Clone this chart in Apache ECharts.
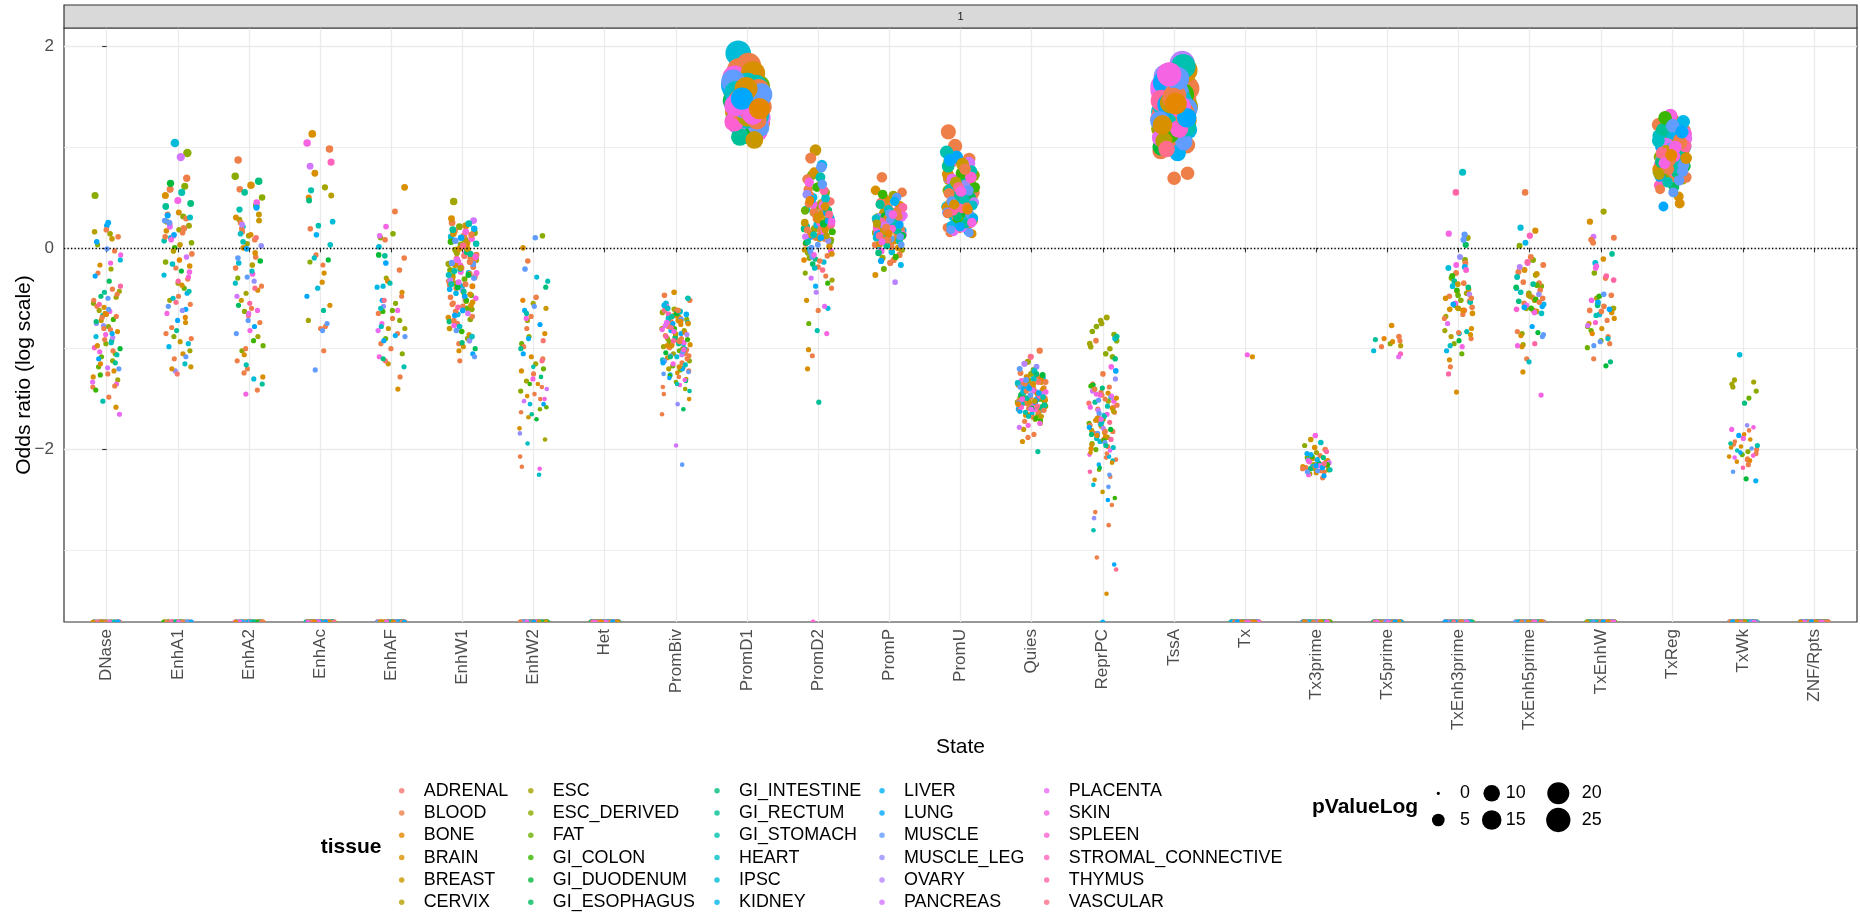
<!DOCTYPE html>
<html>
<head>
<meta charset="utf-8">
<script src="https://cdn.jsdelivr.net/npm/echarts@6/dist/echarts.min.js"></script>
<style>html,body{margin:0;padding:0;background:#fff}#chart{width:1860px;height:915px}</style>
</head>
<body>
<div id="chart"></div>
<script>
const _ = null; // -Inf (log odds ratio of zero overlap)

const states = ["DNase","EnhA1","EnhA2","EnhAc","EnhAF","EnhW1","EnhW2","Het","PromBiv","PromD1","PromD2","PromP","PromU","Quies","ReprPC","TssA","Tx","Tx3prime","Tx5prime","TxEnh3prime","TxEnh5prime","TxEnhW","TxReg","TxWk","ZNF/Rpts"];
const tissues = ["ADRENAL","BLOOD","BONE","BRAIN","BREAST","CERVIX","ESC","ESC_DERIVED","FAT","GI_COLON","GI_DUODENUM","GI_ESOPHAGUS","GI_INTESTINE","GI_RECTUM","GI_STOMACH","HEART","IPSC","KIDNEY","LIVER","LUNG","MUSCLE","MUSCLE_LEG","OVARY","PANCREAS","PLACENTA","SKIN","SPLEEN","STROMAL_CONNECTIVE","THYMUS","VASCULAR"];
const yTicks = [-2, 0, 2];
const yMinorTicks = [-3, -1, 1];
const sizeBreaks = [0, 5, 10, 15, 20, 25];

// tissue of each of the 127 samples (index into tissues)
const sampleTissue = [
6,6,6,7,7,7,7,6,7,7,
7,7,7,6,6,6,19,16,16,16,
16,16,8,6,8,27,4,4,1,1,
1,1,1,1,1,1,1,1,1,1,
1,1,1,1,1,1,1,1,2,1,
1,21,3,3,25,25,25,25,25,25,
1,8,29,18,3,3,3,3,3,3,
3,3,9,9,10,10,11,0,3,3,
15,12,12,17,23,19,20,21,24,14,
28,14,15,19,22,23,24,20,13,13,
13,15,15,9,20,20,12,14,14,28,
26,19,1,1,5,18,4,20,20,29,
1,1,3,25,25,19,2];

// log odds ratio per sample, one array per state (_ = -Inf)
const orDNase = [.14,-.62,_,-.95,.52,-1.12,_,-.43,-.78,.03,
-1.05,_,-.55,-.21,_,-1.31,.22,-.88,_,-.67,
-.12,_,-1.18,-.49,_,-.99,.09,-.72,_,-1.25,
-.58,-.03,_,-1.38,-.81,_,-.46,.18,_,-1.02,
-.69,_,-1.48,-.25,_,-.91,-.52,_,-1.15,.11,
_,-.75,-1.22,_,-.07,-.63,_,-1.35,-.86,_,
-.41,-1.08,_,.25,-.97,_,-.59,-1.28,_,-.17,
-.83,_,-1.41,-.71,_,-1.0,-.33,_,-1.58,-.65,
_,-.92,-.48,_,-1.19,.06,_,-.77,-1.33,_,
-.56,-1.06,_,-.28,-.89,_,-1.65,-.61,_,-1.14,
-.44,_,-.94,-1.26,_,-.01,-.73,_,-1.52,-.38,
_,-1.1,-.68,_,.16,-.85,_,-1.2,-.5,_,
-1.37,-.8,_,-.15,-1.03,_,-.66];
const orEnhA1 = [.22,-.35,_,.61,-.88,.05,_,-.52,.94,_,
-.14,.31,_,-1.02,.18,_,-.61,1.04,-.27,_,
.1,-.95,_,.26,-.4,_,-1.18,.03,_,.69,
-.2,_,.15,-.79,_,-.48,.33,_,-1.1,-.06,
_,.58,-.31,_,-.85,.2,_,-.56,-.12,_,
.29,-1.22,_,-.37,.08,_,.47,-.65,_,.12,
-.9,_,.24,-.45,_,.52,-1.05,_,-.18,.35,
_,-.74,.0,_,-.23,.64,_,-1.25,.17,_,
-.5,.44,_,-.98,-.09,_,.27,-.62,_,-.43,
-.33,_,-1.15,.13,_,.9,.21,_,-.82,.41,
_,-.16,.3,_,-.58,-1.08,_,.07,.55,_,
-.29,-.72,_,.19,-.03,_,-.93,.25,_,-.54,
.11,_,-1.2,-.24,_,.32,-.69];
const orEnhA2 = [.28,_,-.45,.71,_,-1.02,_,.12,-.3,_,
-.63,.5,_,_,-.88,.04,_,-1.3,.21,_,
_,-.15,.42,_,-.97,_,-.52,.33,_,-1.12,
.08,_,-.38,_,.58,-1.41,_,-.2,_,.16,
-.74,_,.87,-.09,_,_,-.6,.25,_,-1.2,
_,-.33,.0,_,-.82,_,.45,-1.45,_,-.26,
.19,_,-.67,_,-.05,-1.06,_,.62,_,-.42,
_,.3,-.92,_,-.13,_,-.57,.1,_,-1.28,
-.23,_,.66,_,-.48,-.78,_,.02,_,.38,
_,-1.16,-.35,_,.23,_,-.65,-.1,_,.55,
-1.35,_,.14,_,-.29,-.85,_,.06,_,-.55,
_,.4,-1.0,_,-.17,_,.27,-.72,_,-.4,
-1.24,_,.13,_,-.62,-.01,_];
const orEnhAc = [_,_,.6,_,_,_,-.14,_,_,_,
_,_,_,_,-.72,_,_,.26,_,_,
_,-.4,_,_,_,.85,_,_,_,-.07,
_,_,_,.98,_,_,-.78,_,_,_,
.19,_,_,_,-1.02,_,_,_,.5,_,
_,_,-.34,_,_,_,1.04,_,_,_,
-.8,_,_,.13,_,_,1.13,-.57,_,_,
_,.74,_,_,_,-.12,_,_,-.25,_,
_,_,.47,_,_,_,-.82,_,_,.22,
_,_,-.1,_,_,.81,_,_,_,-.62,
_,.03,_,_,_,-1.21,_,_,.57,_,
_,-.48,_,_,.52,_,_,-.75,_,_,
-.17,_,_,_,_,_,_];
const orEnhAF = [_,-.3,_,.14,_,-.72,_,_,-.55,_,
-1.05,_,.1,_,_,-.8,_,-.38,_,_,
.01,_,-.9,_,-.62,_,_,-1.15,_,.36,
_,-.48,_,_,-.85,_,-.1,_,_,-1.28,
_,-.65,_,.08,_,_,-.95,_,-.33,_,
_,-.58,_,_,-1.08,_,.21,_,_,-.75,
-.22,_,_,-.87,_,-.44,_,_,-1.4,_,
.6,_,-.63,_,_,-.07,_,-1.12,_,_,
-.78,_,_,-.39,_,-.92,_,_,.12,_,
_,-1.18,_,-.52,_,_,-.82,_,-.08,_,
_,-.6,_,_,-.88,_,-1.1,_,-.35,_,
_,-.15,_,-.7,_,_,-.8,_,_,-.52,
_,-1.0,_,-.62,_,_,_];
const orEnhW1 = [-.12,.08,-.35,-.61,.03,-.22,-.9,-.05,.15,-.44,
-.28,-.71,.21,-.16,-.53,-.02,-1.05,-.38,.11,-.25,
-.66,-.09,-.31,.46,-.47,-.18,-.8,.05,-.4,-.13,
-.58,.25,-.26,-.95,-.07,-.36,.17,-.68,-.2,-.49,
-.03,-.75,-.29,.12,-.55,-.1,-1.12,-.33,.01,-.63,
-.19,-.42,.29,-.86,-.14,-.5,-.06,-.77,.09,-.24,
-.37,-.6,-.11,.19,-.98,-.3,-.46,-.01,-.69,.22,
-.17,-.54,-.83,.06,-.27,-.39,-1.0,-.08,.14,-.57,
-.21,-.73,-.04,-.45,.27,-.62,-.15,-.92,-.34,.04,
-.51,-.23,-.88,.1,-.32,-.65,-.12,-1.08,-.43,.18,
-.06,-.78,-.27,-.52,.07,-.16,-.94,-.36,.24,-.59,
-.09,-.48,-.72,.13,-.2,-.41,-.01,-.82,-.3,.02,
-.56,-.14,-1.02,-.25,.16,-.67,-.38];
const orEnhW2 = [-1.32,_,-.55,_,-1.6,-.88,_,-1.15,_,.12,
_,-1.42,_,-.72,-1.9,_,-1.05,_,-1.55,_,
-.29,_,-1.2,_,-.95,_,-1.68,-.6,_,_,
-1.38,_,-2.07,_,-.8,_,-1.25,_,-1.5,_,
_,-.49,_,-1.1,_,-1.63,_,-.13,_,-1.45,
-.98,_,_,-1.79,_,-.7,_,-1.3,_,-2.19,
_,-1.58,_,-.62,_,-1.08,_,_,-1.47,-.85,
_,.0,_,-1.35,_,-1.7,_,-.92,_,-1.22,
-2.25,_,-.39,_,-1.52,_,_,-1.84,_,-.65,
_,-1.18,_,-.76,_,-1.4,_,-.21,_,-1.65,
-1.0,_,-1.94,_,-.58,_,-1.28,_,-.33,_,
_,-1.55,_,-2.17,_,-.9,_,.1,_,-1.12,
-.68,_,-1.35,_,-1.5,_,-.52];
const orHet = [_,_,_,_,_,_,_,_,_,_,
_,_,_,_,_,_,_,_,_,_,
_,_,_,_,_,_,_,_,_,_,
_,_,_,_,_,_,_,_,_,_,
_,_,_,_,_,_,_,_,_,_,
_,_,_,_,_,_,_,_,_,_,
_,_,_,_,_,_,_,_,_,_,
_,_,_,_,_,_,_,_,_,_,
_,_,_,_,_,_,_,_,_,_,
_,_,_,_,_,_,_,_,_,_,
_,_,_,_,_,_,_,_,_,_,
_,_,_,_,_,_,_,_,_,_,
_,_,_,_,_,_,_];
const orPromBiv = [-.82,-1.05,-.64,-1.21,-.93,-.71,-1.33,-.58,-1.0,-.77,
-1.12,-.68,-.9,-1.4,-.61,-.98,-.85,-1.26,-.74,-1.08,
-.55,-.95,-1.17,-.8,-1.02,-.66,-1.3,-.88,-.47,-1.14,
-.73,-1.22,-.92,-.6,-1.05,-.83,-1.38,-.7,-.99,-1.1,
-.63,-.87,-1.19,-.96,-.52,-1.28,-.78,-1.03,-.67,-1.45,
-.9,-1.07,-.75,-1.24,-.58,-.94,-1.15,-.81,-1.36,-.69,
-1.01,-.86,-.62,-1.2,-.97,-1.5,-.72,-1.09,-.84,-.44,
-1.13,-.76,-1.27,-.91,-.65,-1.04,-1.6,-.79,-.96,-1.18,
-.7,-1.32,-.89,-.57,-1.06,-.82,-1.23,-1.55,-.74,-1.0,
-.92,-1.11,-.63,-1.29,-.86,-1.96,-.77,-1.03,-.68,-1.42,
-.95,-.6,-1.16,-.8,-1.25,-.71,-1.08,-.5,-1.35,-.88,
-1.01,-.75,-1.65,-.93,-1.2,-.66,-.85,-1.12,-2.15,-.79,
-1.07,-.62,-.97,-1.31,-.83,-1.14,-.73];
const orPromD1 = [1.45,1.32,1.58,1.21,1.4,1.51,1.28,1.36,1.62,1.18,
1.47,1.25,1.55,1.34,1.42,1.66,1.3,1.5,1.93,1.38,
1.44,1.57,1.27,1.35,1.6,1.19,1.48,1.31,1.53,1.4,
1.26,1.76,1.43,1.33,1.54,1.23,1.46,1.37,1.81,1.29,
1.5,1.41,1.64,1.2,1.39,1.56,1.3,1.45,1.34,1.59,
1.24,1.43,1.36,1.52,1.28,1.69,1.38,1.47,1.15,1.55,
1.33,1.42,1.25,1.61,1.37,1.49,1.21,1.44,1.35,1.73,
1.3,1.53,1.4,1.27,1.58,1.12,1.46,1.32,1.5,1.38,
1.62,1.24,1.43,1.55,1.29,1.41,1.36,1.22,1.48,1.26,
1.39,1.57,1.31,1.45,1.22,1.52,1.34,1.65,1.4,1.1,
1.47,1.28,1.54,1.36,1.43,1.19,1.5,1.33,1.6,1.42,
1.25,1.49,1.37,1.56,1.3,1.44,1.07,1.39,1.52,1.35,
1.46,1.27,1.58,1.41,1.32,1.48,1.38];
const orPromD2 = [.35,.08,.62,-.1,.27,.41,-.25,.15,.72,.02,
.3,-.05,.55,.19,-.32,.44,.11,-.6,.23,.38,
-.14,.5,.06,.33,-.75,.21,.97,-.02,.4,.13,
.26,-.19,.68,.09,.36,-.4,.17,.52,-.08,.29,
.04,.45,-1.07,.22,.12,.58,-.28,.34,-.12,.2,
.89,.07,.31,-.52,.16,.43,-.03,.25,.65,-.85,
.1,.37,-.22,.48,.01,.28,-1.2,.18,.75,-.06,
.32,.14,-.35,.6,.05,.24,-.16,.46,.09,-1.01,
.39,-.11,.19,.82,-.3,.27,.03,.53,-.58,.13,
.23,.7,-.01,.35,-.44,.11,.42,-.09,.31,-1.53,
.06,.49,-.2,.16,.8,-.04,.37,-.82,.21,.57,
_,.29,-.13,.44,.12,-.38,.25,.63,.0,.33,
-.62,.18,.41,-.07,.26,.1,.47];
const orPromP = [.25,.12,.38,.05,.3,.47,.19,-.02,.33,.22,
.08,.28,.15,.52,-.1,.36,.21,.02,.27,.41,
.17,-.04,.31,.11,.24,.2,.07,.35,.18,-.15,
.29,.14,.44,.03,.26,.7,-.07,.39,.1,.32,
.23,.55,.01,.16,.34,.09,.27,-.12,.21,.37,
.06,.3,.19,.48,.13,.25,-.03,.4,.22,.15,
.33,-.21,.11,.28,.04,.36,.18,.57,.08,.24,
.42,.16,.26,-.09,.31,.12,.2,.45,.0,.29,
.1,.35,.23,-.17,.27,.14,.5,.05,.32,.19,
.26,.07,.38,.13,-.34,.22,.3,.09,.43,.17,
.02,.29,.21,.53,.11,.34,-.05,.25,.15,.4,
.19,-.13,.31,.08,.24,.46,.16,.03,.28,.12,
.36,.2,-.27,.33,.06,.23,.14];
const orPromU = [.62,.38,.85,.51,.29,.72,.44,.18,.66,.33,
.57,.25,.91,.48,.7,.36,.16,.6,.41,.79,
.31,.54,.22,.68,.45,.19,.27,.63,.39,.88,
.5,.2,.75,.35,.58,.42,.15,.65,.3,.55,
.82,.47,.24,.61,1.15,.7,1.01,.52,.43,.93,
.28,.64,.4,.77,.17,.56,.34,.69,.46,.23,
.59,.32,.86,.49,.21,.73,.38,.53,.14,.67,
.44,.8,.26,.6,.36,.37,.5,.19,.71,.41,
.55,.3,.66,.22,.84,.47,.35,.62,.16,.76,
.39,.58,.27,.9,.45,.2,.68,.33,.52,.81,
.24,.63,.42,.74,.18,.57,.31,.95,.48,.37,
.7,.21,.54,.4,.65,.29,.83,.46,.15,.6,
.34,.78,.43,.25,.56,.87,.38];
const orQuies = [-1.45,-1.62,-1.31,-1.53,-1.7,-1.38,-1.58,-1.25,-1.49,-1.66,
-1.4,-1.55,-1.21,-1.47,-1.74,-1.35,-1.6,-1.43,-1.52,-1.29,
-1.64,-1.36,-1.5,-1.13,-1.57,-1.42,-1.8,-1.33,-1.48,-1.61,
-1.27,-1.54,-1.39,-1.68,-1.46,-1.02,-1.59,-1.34,-1.51,-1.72,
-1.41,-1.56,-1.24,-1.63,-1.37,-1.49,-1.85,-1.44,-1.3,-1.58,
-1.52,-1.18,-1.66,-1.4,-1.55,-1.32,-1.47,-1.76,-1.43,-1.6,
-1.35,-1.5,-1.08,-1.62,-1.45,-1.28,-1.57,-1.39,-1.92,-1.48,
-1.53,-1.36,-1.69,-1.42,-1.26,-1.59,-1.46,-1.33,-1.65,-1.51,
-1.22,-1.44,-1.58,-1.37,-1.78,-1.5,-1.31,-1.61,-1.41,-1.55,
-1.47,-1.67,-1.34,-1.53,-1.15,-1.45,-1.6,-1.38,-2.02,-1.49,
-1.56,-1.3,-1.43,-1.71,-1.4,-1.54,-1.25,-1.63,-1.48,-1.36,
-1.58,-1.44,-1.88,-1.33,-1.52,-1.4,-1.67,-1.46,-1.2,-1.57,
-1.42,-1.61,-1.35,-1.5,-1.74,-1.39,-1.55];
const orReprPC = [-.72,-.95,-1.88,-.78,-.86,-1.7,-.83,-1.0,-2.2,-.92,
-1.05,-1.4,-1.08,-.75,-.98,-1.52,-1.86,-.9,-1.66,-2.35,
-1.48,-1.92,-1.74,-.69,-2.0,-1.58,-2.42,-1.81,-1.38,-1.68,
-2.1,-1.5,-1.84,-2.55,-1.43,-1.76,-1.97,-3.07,-1.63,-1.9,
-1.35,-2.27,-1.72,-1.56,-2.08,-2.62,-1.82,-1.46,-1.99,-2.75,
-1.6,-1.3,-1.83,-1.41,-1.18,-1.75,-2.05,-1.65,-1.45,-1.52,
-1.25,-1.94,-1.73,-2.15,-1.49,-1.87,-2.3,-1.59,-1.77,-2.03,
-1.44,-1.69,-2.48,-1.91,-1.36,-1.8,-2.18,-1.54,-3.43,-1.71,
-1.98,-1.39,-1.85,-2.07,-1.61,-1.22,-1.93,-2.68,-1.47,-1.75,
-2.22,-1.57,-1.89,-3.14,-1.79,-1.42,-2.01,-1.64,-.88,-1.96,
-1.53,-2.11,-1.73,-1.37,-2.37,-1.84,-1.1,-1.67,-2.8,-1.9,
-1.46,-1.78,-2.04,-.92,-1.62,_,-1.95,-2.25,-1.51,-3.19,
-1.82,-1.4,-2.13,-1.7,-1.58,-2.5,-1.86];
const orTssA = [1.52,1.38,1.6,1.25,1.45,1.33,1.55,1.18,1.42,1.28,
1.48,1.62,1.36,1.21,1.5,1.4,1.3,1.57,1.12,1.44,
1.35,1.53,1.26,1.46,1.66,1.2,1.39,1.31,1.58,1.08,
1.43,1.15,1.49,1.34,1.27,1.54,1.02,1.37,1.22,1.47,
1.3,.96,1.41,1.19,1.51,.69,1.35,1.24,1.44,.74,
1.29,1.7,1.4,1.16,1.56,1.33,1.45,1.23,1.63,1.37,
1.1,1.5,1.28,.94,1.42,1.36,1.19,1.59,1.32,1.48,
1.26,1.43,1.14,1.52,1.38,1.0,1.46,1.3,1.76,1.21,
1.41,1.34,1.55,1.17,1.45,1.27,1.05,1.39,1.6,1.31,
1.49,1.2,1.36,1.64,1.83,1.44,1.09,1.53,1.33,1.4,
1.25,1.28,1.47,1.13,1.38,1.57,1.24,1.8,1.35,1.46,
1.18,1.42,1.3,1.51,1.06,1.37,1.44,1.26,1.68,.98,
1.34,1.48,1.22,1.4,1.72,1.29,1.43];
const orTx = [_,_,_,_,_,_,_,_,_,_,
_,_,_,_,_,_,_,_,_,_,
_,_,_,_,_,_,_,_,_,_,
_,_,_,_,_,_,_,_,_,_,
_,_,_,_,_,_,_,_,_,_,
_,_,_,_,_,_,-1.06,_,_,_,
_,_,_,_,_,_,-1.08,_,_,_,
_,_,_,_,_,_,_,_,_,_,
_,_,_,_,_,_,_,_,_,_,
_,_,_,_,_,_,_,_,_,_,
_,_,_,_,_,_,_,_,_,_,
_,_,_,_,_,_,_,_,_,_,
_,_,_,_,_,_,_];
const orTx3prime = [_,-2.12,_,-1.96,_,_,-2.2,_,-2.08,_,
-2.15,_,_,-2.24,_,-2.03,_,_,-2.17,_,
_,-2.1,_,-2.19,_,_,-1.9,_,-2.14,_,
-2.22,_,_,-2.06,_,-2.16,_,_,-2.28,_,
_,-2.13,_,-2.0,_,_,-2.21,_,-2.11,_,
-2.18,_,-2.09,_,_,-2.25,_,-1.86,_,-2.15,
_,-2.2,_,-2.04,_,_,-2.17,_,-2.12,_,
-2.23,_,_,-2.07,_,-2.14,_,_,-1.98,_,
_,-2.19,_,-2.1,_,-2.26,_,_,-2.16,_,
-2.02,_,_,-2.18,_,-2.13,_,-2.22,_,_,
_,-1.93,_,-2.15,_,_,-2.08,_,-2.2,_,
-2.11,_,-2.17,_,_,-2.05,_,-2.21,_,-2.14,
_,-2.19,_,-2.12,_,-2.16,_];
const orTx5prime = [_,_,_,_,_,-.95,_,_,_,_,
_,_,_,_,_,_,_,-1.02,_,_,
_,_,_,_,_,-1.05,_,_,_,_,
_,_,_,-.88,_,_,_,_,_,_,
_,_,_,_,_,_,-.92,_,_,_,
_,_,-.77,_,_,_,_,_,_,_,
_,_,_,_,_,-.93,_,_,_,_,
_,_,_,_,_,_,_,_,_,_,
_,_,_,_,_,_,_,_,-1.08,_,
_,_,_,_,_,_,_,_,-.91,_,
_,_,_,_,_,_,_,_,_,_,
_,_,_,_,-.97,_,_,_,_,_,
_,-.98,_,_,_,_,-.9];
const orTxEnh3prime = [-.45,_,-.82,_,-.3,_,-.6,_,-.12,-.95,
_,-.52,_,.1,_,-.68,_,-.38,_,-.85,
-.2,_,-.57,_,-1.05,_,-.41,-.6,_,-.62,
_,-.9,_,-.48,_,-.25,_,-.66,_,-.53,
-.84,_,-.15,_,-.59,_,-1.18,_,-.43,_,
-.35,_,-.86,_,.14,_,-.55,_,-.98,_,
_,-.47,_,-.19,_,-.8,_,-.61,_,-1.43,
-.5,_,-.28,_,-.92,_,.03,_,-.65,_,
_,-.39,_,-1.02,_,-.56,_,-.09,_,-.83,
.55,_,.75,_,-.46,_,-.75,_,-.33,_,
_,-.97,_,-.42,_,.08,_,-.54,_,-1.25,
-.22,_,-.7,_,-.88,_,-.36,_,.13,_,
-.5,_,-1.11,_,-.17,_,-.62];
const orTxEnh5prime = [_,-.52,_,-.38,_,.02,_,-.6,_,-.12,
-.85,_,-.45,_,-.27,_,-.58,_,.2,_,
_,-.4,_,-.96,_,.12,_,-.63,_,-.17,
-.49,_,-.35,_,-.83,_,-.55,_,-.09,_,
_,-1.1,_,-.62,_,-.42,_,-.24,_,.55,
-.5,_,-.87,_,-.15,_,-.64,_,-1.46,_,
_,-.37,_,-.56,_,-.98,_,-.47,_,.17,
-.22,_,-.6,_,-.84,_,-.39,_,-1.23,_,
_,-.53,_,.05,_,-.78,_,-.46,_,-.29,
-.95,_,-.65,_,-.19,_,-.57,_,-.36,_,
_,-1.13,_,-.51,_,-.88,_,-.44,_,-.14,
-.61,_,-.34,_,-.48,_,-.26,_,-.86,_,
_,-.54,_,-.97,_,-.59,_];
const orTxEnhW = [_,-.6,_,.08,_,_,-.78,_,-.25,_,
-.92,_,_,-.5,_,.36,_,_,-.66,_,
_,-.15,_,_,-.82,_,-.55,_,_,-1.1,
-.47,_,_,-.72,_,.1,_,_,-.95,_,
_,-.3,_,_,-.63,_,-.88,_,_,-.58,
.05,_,_,-.75,_,-.2,_,_,-.52,_,
_,-.99,_,_,-.64,_,.26,_,_,-.7,
-.11,_,_,-.48,_,-1.17,_,_,-.8,_,
_,-.57,_,_,.11,_,-.93,_,_,-.67,
-.32,_,_,-.61,_,-.77,_,_,-.06,_,
_,-.9,_,_,-.46,_,-1.13,_,_,-.28,
-.74,_,_,.08,_,-.54,_,_,-.97,_,
_,-.62,_,-.18,_,_,-.85];
const orTxReg = [.95,.82,1.08,.71,.9,1.15,.78,.99,.64,1.02,
.87,1.2,.75,.93,1.05,.68,.97,.85,1.12,.8,
1.0,.73,.91,1.18,.83,.62,1.06,.88,.96,1.27,
.77,1.03,.86,.7,.98,1.1,.81,.94,.58,1.01,
.89,1.16,.74,.92,1.04,.84,1.22,.66,.97,.79,
1.07,.87,.51,.95,1.13,.76,1.0,.9,1.31,.82,
.69,.99,1.09,.85,.93,.44,1.05,.78,.96,1.14,
.88,1.02,.72,.94,1.19,.81,.6,.98,1.06,.86,
1.11,.75,.92,1.25,.84,1.0,.67,.9,1.08,.79,
.97,.83,1.14,.71,.95,1.03,.88,.55,1.17,.93,
.8,1.06,.9,1.29,.76,.99,.85,1.1,.65,1.01,
.91,.41,1.04,.87,.73,1.12,.96,.82,1.21,.94,
1.07,.78,.89,1.0,.84,1.15,.92];
const orTxWk = [-1.33,_,-1.35,_,_,-1.42,_,-1.31,_,_,
_,-2.02,_,_,_,-1.38,_,-1.06,_,_,
_,_,-2.05,_,-1.49,_,_,_,-1.95,_,
_,_,-2.1,_,_,-1.88,_,_,_,-2.0,
_,-1.92,_,_,_,-2.15,_,_,-1.85,_,
_,_,-2.07,_,_,-1.78,_,-1.8,_,_,
-2.04,_,_,_,-1.97,_,_,-2.12,_,_,
_,-1.9,_,_,-2.29,_,_,_,-1.98,_,
_,_,-1.54,_,_,-2.03,_,-1.76,_,_,
-2.18,_,_,-1.86,_,_,-2.08,_,_,-1.94,
_,-2.01,_,_,-2.22,_,_,-1.96,_,_,
-2.06,_,_,-1.81,_,-2.31,_,_,-1.99,_,
_,-2.09,_,_,-1.89,_,-2.11];
const orZNFRpts = [_,_,_,_,_,_,_,_,_,_,
_,_,_,_,_,_,_,_,_,_,
_,_,_,_,_,_,_,_,_,_,
_,_,_,_,_,_,_,_,_,_,
_,_,_,_,_,_,_,_,_,_,
_,_,_,_,_,_,_,_,_,_,
_,_,_,_,_,_,_,_,_,_,
_,_,_,_,_,_,_,_,_,_,
_,_,_,_,_,_,_,_,_,_,
_,_,_,_,_,_,_,_,_,_,
_,_,_,_,_,_,_,_,_,_,
_,_,_,_,_,_,_,_,_,_,
_,_,_,_,_,_,_];

// pValueLog per sample, one array per state
const pDNase = [.3,.2,.1,.2,.8,.2,.1,.2,.2,.2,
.2,.1,.2,.2,.1,.2,.3,.2,.1,.2,
.2,.1,.2,.2,.1,.2,.3,.2,.1,.2,
.2,.2,.1,.2,.2,.1,.2,.3,.1,.2,
.2,.1,.2,.2,.1,.2,.2,.1,.2,.3,
.1,.2,.2,.1,.2,.2,.1,.2,.2,.1,
.2,.2,.1,.4,.2,.1,.2,.2,.1,.2,
.2,.1,.2,.2,.1,.2,.2,.1,.2,.2,
.1,.2,.2,.1,.2,.3,.1,.2,.2,.1,
.2,.2,.1,.2,.2,.1,.2,.2,.1,.2,
.2,.1,.2,.2,.1,.2,.2,.1,.2,.2,
.1,.2,.2,.1,.3,.2,.1,.2,.2,.1,
.2,.2,.1,.2,.2,.1,.2];
const pEnhA1 = [.4,.2,.1,.8,.2,.3,.1,.2,1.5,.1,
.3,.4,.1,.2,.3,.1,.2,1.6,.2,.1,
.3,.2,.1,.4,.2,.1,.2,.3,.1,.9,
.2,.1,.3,.2,.1,.2,.4,.1,.2,.3,
.1,.8,.2,.1,.2,.3,.1,.2,.3,.1,
.4,.2,.1,.2,.3,.1,.8,.2,.1,.3,
.2,.1,.4,.2,.1,.8,.2,.1,.3,.4,
.1,.2,.3,.1,.2,.9,.1,.2,.3,.1,
.2,.7,.1,.2,.3,.1,.4,.2,.1,.2,
.2,.1,.2,.3,.1,1.4,.4,.1,.2,.7,
.1,.3,.4,.1,.2,.2,.1,.3,.8,.1,
.2,.2,.1,.3,.3,.1,.2,.4,.1,.2,
.3,.1,.2,.3,.1,.4,.2];
const pEnhA2 = [.4,.1,.2,1.0,.1,.2,.1,.3,.2,.1,
.2,.6,.1,.1,.2,.3,.1,.2,.3,.1,
.1,.3,.6,.1,.2,.1,.2,.4,.1,.2,
.3,.1,.2,.1,.6,.2,.1,.3,.1,.3,
.2,.1,1.0,.3,.1,.1,.2,.4,.1,.2,
.1,.2,.3,.1,.2,.1,.6,.2,.1,.3,
.3,.1,.2,.1,.3,.2,.1,1.0,.1,.2,
.1,.4,.2,.1,.3,.1,.2,.3,.1,.2,
.2,.1,1.0,.1,.2,.2,.1,.3,.1,.5,
.1,.2,.2,.1,.4,.1,.2,.3,.1,.6,
.2,.1,.3,.1,.2,.2,.1,.3,.1,.2,
.1,.5,.2,.1,.3,.1,.4,.2,.1,.2,
.2,.1,.3,.1,.2,.3,.1];
const pEnhAc = [.1,.1,.5,.1,.1,.1,.2,.1,.1,.1,
.1,.1,.1,.1,.2,.1,.1,.3,.1,.1,
.1,.2,.1,.1,.1,.8,.1,.1,.1,.2,
.1,.1,.1,1.0,.1,.1,.2,.1,.1,.1,
.3,.1,.1,.1,.2,.1,.1,.1,.4,.1,
.1,.1,.2,.1,.1,.1,1.0,.1,.1,.1,
.2,.1,.1,.3,.1,.1,1.1,.2,.1,.1,
.1,.7,.1,.1,.1,.2,.1,.1,.2,.1,
.1,.1,.4,.1,.1,.1,.2,.1,.1,.3,
.1,.1,.2,.1,.1,.7,.1,.1,.1,.2,
.1,.3,.1,.1,.1,.2,.1,.1,.5,.1,
.1,.2,.1,.1,.4,.1,.1,.2,.1,.1,
.2,.1,.1,.1,.1,.1,.1];
const pEnhAF = [.2,.2,.1,.3,.1,.2,.1,.2,.2,.1,
.2,.1,.3,.2,.1,.2,.1,.2,.2,.1,
.3,.1,.2,.1,.2,.2,.1,.2,.1,.4,
.1,.2,.2,.1,.2,.1,.3,.2,.1,.2,
.1,.2,.1,.3,.2,.1,.2,.1,.2,.2,
.2,.2,.1,.1,.2,.2,.3,.1,.2,.2,
.3,.1,.2,.2,.1,.2,.1,.2,.2,.1,
.7,.1,.2,.2,.1,.3,.2,.2,.1,.2,
.2,.1,.2,.2,.1,.2,.1,.2,.3,.1,
.1,.2,.1,.2,.2,.1,.2,.1,.3,.2,
.1,.2,.2,.1,.2,.1,.2,.2,.2,.1,
.2,.3,.1,.2,.1,.2,.2,.1,.2,.2,
.1,.2,.2,.2,.1,.2,.1];
const pEnhW1 = [.5,.6,.3,.3,.6,.4,.3,.5,.7,.3,
.4,.3,.7,.5,.3,.5,.2,.4,.6,.4,
.3,.5,.4,1.0,.3,.5,.3,.6,.3,.5,
.3,.7,.4,.2,.5,.4,.6,.3,.5,.3,
.5,.3,.4,.6,.3,.5,.2,.4,.6,.3,
.4,.3,.7,.2,.5,.3,.5,.3,.6,.4,
.4,.3,.5,.6,.2,.4,.3,.5,.3,.7,
.5,.3,.3,.6,.4,.4,.2,.5,.6,.3,
.4,.3,.5,.3,.7,.3,.5,.3,.4,.6,
.3,.4,.3,.6,.4,.3,.5,.2,.3,.7,
.5,.3,.4,.3,.6,.5,.2,.4,.7,.3,
.5,.3,.3,.6,.4,.3,.5,.3,.4,.6,
.3,.5,.2,.4,.6,.3,.4];
const pEnhW2 = [.2,.1,.2,.1,.1,.2,.1,.2,.1,.3,
.1,.2,.1,.2,.1,.1,.2,.1,.1,.2,
.2,.1,.2,.1,.2,.1,.1,.2,.1,.1,
.1,.2,.1,.1,.2,.1,.2,.1,.1,.2,
.1,.3,.1,.2,.1,.1,.2,.3,.1,.1,
.2,.1,.1,.1,.2,.2,.1,.2,.1,.1,
.1,.1,.2,.2,.1,.2,.1,.1,.1,.2,
.1,.3,.1,.1,.2,.1,.1,.2,.1,.2,
.1,.2,.2,.1,.1,.1,.2,.1,.2,.2,
.2,.1,.1,.2,.1,.1,.2,.3,.1,.1,
.2,.1,.1,.2,.2,.1,.1,.2,.2,.1,
.1,.1,.2,.1,.2,.2,.1,.3,.1,.2,
.2,.1,.1,.2,.1,.2,.2];
const pHet = [];
const pPromBiv = [.2,.2,.3,.2,.2,.2,.1,.3,.2,.2,
.2,.3,.2,.1,.3,.2,.2,.2,.2,.2,
.3,.2,.2,.2,.2,.3,.1,.2,.3,.2,
.2,.2,.2,.3,.2,.2,.1,.3,.2,.2,
.3,.2,.2,.2,.3,.1,.2,.2,.3,.1,
.2,.2,.3,.1,.3,.2,.2,.2,.1,.3,
.2,.2,.3,.2,.2,.1,.3,.2,.2,.3,
.2,.2,.1,.2,.3,.2,.1,.2,.2,.2,
.3,.1,.2,.3,.2,.2,.1,.1,.3,.2,
.2,.2,.3,.1,.2,.1,.2,.2,.3,.1,
.2,.3,.2,.2,.1,.3,.2,.3,.1,.2,
.2,.2,.1,.2,.2,.3,.2,.2,.1,.2,
.2,.3,.2,.1,.2,.2,.3];
const pPromD1 = [20,16,22,14,19,21,15,18,23,13,
20,15,22,17,19,24,16,21,28,18,
19,22,15,17,23,13,20,16,21,19,
15,26,19,17,21,14,20,18,27,16,
21,19,23,14,18,22,16,20,17,22,
15,19,18,21,16,24,18,20,12,22,
17,19,15,23,18,21,14,20,17,25,
16,21,19,15,22,12,20,17,21,18,
23,15,19,22,16,19,18,14,20,15,
18,22,16,20,14,21,17,24,19,12,
20,16,22,18,19,13,21,17,23,19,
15,20,18,22,16,20,12,18,21,17,
20,15,22,19,17,20,18];
const pPromD2 = [1.2,.5,2,.3,1.2,1.5,.2,.8,2.5,.4,
1.2,.3,2,.9,.2,1.5,.6,.2,1,1.4,
.3,1.8,.5,1.3,.2,1,4,.4,1.5,.7,
1.1,.3,2.4,.5,1.3,.2,.8,1.9,.3,1.2,
.4,1.6,.2,1,.6,2,.2,1.3,.3,.9,
3.5,.5,1.2,.2,.8,1.5,.4,1.1,2.2,.2,
.6,1.4,.3,1.7,.4,1.2,.2,.8,2.6,.3,
1.2,.7,.2,2,.4,1,.3,1.6,.5,.2,
1.4,.3,.9,3,.2,1.1,.4,1.9,.2,.7,
1,2.5,.4,1.3,.2,.6,1.5,.3,1.2,.2,
.5,1.7,.3,.8,3,.4,1.4,.2,1,2,
.2,1.2,.3,1.5,.6,.2,1.1,2.2,.4,1.3,
.2,.8,1.5,.3,1.1,.6,1.7];
const pPromP = [1.3,1,1.8,.8,1.5,2,1.2,.6,1.6,1.2,
.9,1.4,1.1,2.2,.5,1.7,1.2,.7,1.4,1.9,
1.1,.6,1.5,1,1.3,1.2,.9,1.7,1.1,.5,
1.5,1,2,.7,1.4,3,.5,1.8,1,1.6,
1.2,2.3,.7,1.1,1.6,.9,1.4,.5,1.2,1.7,
.8,1.5,1.2,2.1,1,1.3,.6,1.9,1.2,1.1,
1.6,.4,1,1.4,.8,1.7,1.1,2.4,.9,1.3,
1.9,1.1,1.4,.5,1.5,1,1.2,2,.7,1.5,
1,1.7,1.2,.4,1.4,1,2.2,.8,1.6,1.2,
1.4,.9,1.8,1,.3,1.2,1.5,.9,2,1.1,
.7,1.5,1.2,2.2,1,1.6,.6,1.3,1.1,1.9,
1.2,.5,1.5,.9,1.3,2,1.1,.7,1.4,1,
1.7,1.2,.4,1.6,.8,1.2,1];
const pPromU = [3.3,2.7,5,3.3,2.2,4,2.7,1.8,4,2.2,
3.3,2.2,5.5,2.7,4,2.7,1.8,3.3,2.7,4,
2.2,3.3,2.2,4,2.7,1.8,2.2,3.3,2.7,5,
3.3,2.2,4,2.7,3.3,2.7,1.8,4,2.2,3.3,
5,2.7,2.2,3.3,8,4,7,3.3,2.7,5.5,
2.2,3.3,2.7,4,1.8,3.3,2.2,4,2.7,2.2,
3.3,2.2,5,2.7,2.2,4,2.7,3.3,1.8,4,
2.7,5,2.2,3.3,2.7,2.7,3.3,1.8,4,2.7,
3.3,2.2,4,2.2,5,2.7,2.7,3.3,1.8,4,
2.7,3.3,2.2,5.5,2.7,2.2,4,2.2,3.3,5,
2.2,3.3,2.7,4,1.8,3.3,2.2,5.5,2.7,2.7,
4,2.2,3.3,2.7,4,2.2,5,2.7,1.8,3.3,
2.2,4,2.7,2.2,3.3,5,2.7];
const pQuies = [.3,.3,.4,.3,.2,.3,.3,.4,.3,.2,
.3,.3,.4,.3,.2,.3,.3,.3,.3,.4,
.2,.3,.3,.5,.3,.3,.2,.4,.3,.2,
.4,.3,.3,.2,.3,.5,.3,.3,.3,.2,
.3,.3,.4,.2,.3,.3,.2,.3,.4,.3,
.3,.4,.2,.3,.3,.4,.3,.2,.3,.3,
.3,.3,.5,.2,.3,.4,.3,.3,.2,.3,
.3,.3,.2,.3,.4,.3,.3,.4,.2,.3,
.4,.3,.3,.3,.2,.3,.4,.2,.3,.3,
.3,.2,.4,.3,.5,.3,.3,.3,.2,.3,
.3,.4,.3,.2,.3,.3,.4,.2,.3,.3,
.3,.3,.2,.4,.3,.3,.2,.3,.4,.3,
.3,.2,.4,.3,.2,.3,.3];
const pReprPC = [.3,.3,.2,.3,.3,.2,.3,.3,.1,.3,
.3,.2,.3,.3,.3,.2,.2,.3,.2,.1,
.2,.2,.2,.4,.2,.2,.1,.2,.2,.2,
.1,.2,.2,.1,.2,.2,.2,.1,.2,.2,
.2,.1,.2,.2,.1,.1,.2,.2,.2,.1,
.2,.2,.2,.2,.3,.2,.1,.2,.2,.2,
.3,.2,.2,.1,.2,.2,.1,.2,.2,.1,
.2,.2,.1,.2,.2,.2,.1,.2,.1,.2,
.2,.2,.2,.1,.2,.3,.2,.1,.2,.2,
.1,.2,.2,.1,.2,.2,.1,.2,.3,.2,
.2,.1,.2,.2,.1,.2,.3,.2,.1,.2,
.2,.2,.1,.3,.2,.2,.2,.1,.2,.1,
.2,.2,.1,.2,.2,.1,.2];
const pTssA = [21,17,23,15,19,17,21,13,19,15,
19,23,17,15,21,19,17,21,13,19,
17,21,15,19,23,15,17,17,21,11,
19,13,19,17,15,21,11,17,15,19,
17,10,19,13,21,6,17,15,19,6,
15,25,19,13,21,17,19,15,23,17,
13,21,15,10,19,17,13,21,17,19,
15,19,13,21,17,11,19,17,25,15,
19,17,21,13,19,15,11,17,23,17,
19,15,17,23,27,19,11,21,17,19,
15,15,19,13,17,21,15,26,17,19,
13,19,17,21,11,17,19,15,23,10,
17,19,15,19,25,15,19];
const pTx = [_,_,_,_,_,_,_,_,_,_,
_,_,_,_,_,_,_,_,_,_,
_,_,_,_,_,_,_,_,_,_,
_,_,_,_,_,_,_,_,_,_,
_,_,_,_,_,_,_,_,_,_,
_,_,_,_,_,_,.2,_,_,_,
_,_,_,_,_,_,.2,_,_,_,
_,_,_,_,_,_,_,_,_,_,
_,_,_,_,_,_,_,_,_,_,
_,_,_,_,_,_,_,_,_,_,
_,_,_,_,_,_,_,_,_,_,
_,_,_,_,_,_,_,_,_,_,
_,_,_,_,_,_,_];
const pTx3prime = [.1,.2,.1,.2,.1,.1,.2,.1,.2,.1,
.2,.1,.1,.2,.1,.2,.1,.1,.2,.1,
.1,.2,.1,.2,.1,.1,.3,.1,.2,.1,
.2,.1,.1,.2,.1,.2,.1,.1,.2,.1,
.1,.2,.1,.3,.1,.1,.2,.1,.2,.1,
.2,.1,.2,.1,.1,.2,.1,.3,.1,.2,
.1,.2,.1,.2,.1,.1,.2,.1,.2,.1,
.2,.1,.1,.2,.1,.2,.1,.1,.3,.1,
.1,.2,.1,.2,.1,.2,.1,.1,.2,.1,
.2,.1,.1,.2,.1,.2,.1,.2,.1,.1,
.1,.3,.1,.2,.1,.1,.2,.1,.2,.1,
.2,.1,.2,.1,.1,.2,.1,.2,.1,.2,
.1,.2,.1,.2,.1,.2,.1];
const pTx5prime = [_,_,_,_,_,.2,_,_,_,_,
_,_,_,_,_,_,_,.2,_,_,
_,_,_,_,_,.2,_,_,_,_,
_,_,_,.3,_,_,_,_,_,_,
_,_,_,_,_,_,.2,_,_,_,
_,_,.3,_,_,_,_,_,_,_,
_,_,_,_,_,.2,_,_,_,_,
_,_,_,_,_,_,_,_,_,_,
_,_,_,_,_,_,_,_,.2,_,
_,_,_,_,_,_,_,_,.2,_,
_,_,_,_,_,_,_,_,_,_,
_,_,_,_,.2,_,_,_,_,_,
_,.2,_,_,_,_,.2];
const pTxEnh3prime = [.3,.2,.2,.2,.4,.2,.3,.2,.4,.2,
.2,.3,.2,.5,.2,.2,.2,.3,.2,.2,
.4,.2,.3,.2,.2,.2,.3,.2,.2,.3,
.2,.2,.2,.3,.2,.4,.2,.2,.2,.3,
.2,.2,.4,.2,.3,.2,.2,.2,.3,.2,
.3,.2,.2,.2,.5,.2,.3,.2,.2,.2,
.2,.3,.2,.4,.2,.2,.2,.3,.2,.2,
.3,.2,.4,.2,.2,.2,.5,.2,.3,.2,
.2,.3,.2,.2,.2,.3,.2,.4,.2,.2,
.6,.2,.8,.2,.3,.2,.2,.2,.3,.2,
.2,.2,.2,.3,.2,.5,.2,.3,.2,.2,
.4,.2,.2,.2,.2,.2,.3,.2,.5,.2,
.3,.2,.2,.2,.4,.2,.3];
const pTxEnh5prime = [.2,.3,.2,.3,.2,.4,.2,.3,.2,.4,
.2,.2,.3,.2,.3,.2,.3,.2,.5,.2,
.2,.3,.2,.2,.2,.5,.2,.3,.2,.4,
.3,.2,.3,.2,.2,.2,.3,.2,.4,.2,
.2,.2,.2,.3,.2,.3,.2,.4,.2,.6,
.3,.2,.2,.2,.4,.2,.3,.2,.2,.2,
.2,.3,.2,.3,.2,.2,.2,.3,.2,.5,
.4,.2,.3,.2,.2,.2,.3,.2,.2,.2,
.2,.3,.2,.4,.2,.2,.2,.3,.2,.4,
.2,.2,.3,.2,.4,.2,.3,.2,.3,.2,
.2,.2,.2,.3,.2,.2,.2,.3,.2,.4,
.3,.2,.3,.2,.3,.2,.4,.2,.2,.2,
.2,.3,.2,.2,.2,.3,.2];
const pTxEnhW = [.2,.3,.2,.4,.2,.2,.2,.2,.3,.2,
.2,.2,.2,.3,.2,.5,.2,.2,.3,.2,
.2,.4,.2,.2,.2,.2,.3,.2,.2,.2,
.3,.2,.2,.2,.2,.4,.2,.2,.2,.2,
.2,.3,.2,.2,.3,.2,.2,.2,.2,.3,
.4,.2,.2,.2,.2,.3,.2,.2,.3,.2,
.2,.2,.2,.2,.3,.2,.5,.2,.2,.2,
.3,.2,.2,.3,.2,.2,.2,.2,.2,.2,
.2,.3,.2,.2,.4,.2,.2,.2,.2,.2,
.3,.2,.2,.3,.2,.2,.2,.2,.3,.2,
.2,.2,.2,.2,.3,.2,.2,.2,.2,.3,
.2,.2,.2,.4,.2,.3,.2,.2,.2,.2,
.2,.3,.2,.3,.2,.2,.2];
const pTxReg = [4.5,4,5,3.5,4.5,5.5,3.5,4.5,3,5,
4,6,3.5,4.5,5,3,4.5,4,5.5,4,
5,3.5,4.5,5.5,4,3,5,4,4.5,6,
3.5,5,4,3.5,4.5,5.5,4,4.5,2.5,5,
4,5.5,3.5,4.5,5,4,6,3,4.5,3.5,
5,4,2.5,4.5,5.5,3.5,5,4.5,6.5,4,
3,4.5,5,4,4.5,2.5,5,3.5,4.5,5.5,
4,5,3.5,4.5,5.5,4,3,4.5,5,4,
5.5,3.5,4.5,6,4,5,3,4.5,5,3.5,
4.5,4,5.5,3.5,4.5,5,4,2.5,5.5,4.5,
4,5,4.5,6,3.5,4.5,4,5.5,3,5,
4.5,2.5,5,4,3.5,5.5,4.5,4,6,4.5,
5,3.5,4,5,4,5.5,4.5];
const pTxWk = [.2,.1,.2,.1,.1,.2,.1,.2,.1,.1,
.1,.2,.1,.1,.1,.2,.1,.3,.1,.1,
.1,.1,.2,.1,.2,.1,.1,.1,.1,.1,
.1,.1,.2,.1,.1,.1,.1,.1,.1,.2,
.1,.1,.1,.1,.1,.2,.1,.1,.1,.1,
.1,.1,.1,.1,.1,.1,.1,.2,.1,.1,
.2,.1,.1,.1,.1,.1,.1,.1,.1,.1,
.1,.1,.1,.1,.2,.1,.1,.1,.1,.1,
.1,.1,.2,.1,.1,.1,.1,.1,.1,.1,
.1,.1,.1,.2,.1,.1,.1,.1,.1,.1,
.1,.1,.1,.1,.1,.1,.1,.2,.1,.1,
.1,.1,.1,.1,.1,.2,.1,.1,.1,.1,
.1,.1,.1,.1,.2,.1,.1];
const pZNFRpts = [];

// tables built from the arrays above
const stateOR = [orDNase, orEnhA1, orEnhA2, orEnhAc, orEnhAF, orEnhW1, orEnhW2, orHet, orPromBiv, orPromD1, orPromD2, orPromP, orPromU, orQuies, orReprPC, orTssA, orTx, orTx3prime, orTx5prime, orTxEnh3prime, orTxEnh5prime, orTxEnhW, orTxReg, orTxWk, orZNFRpts];
const stateP = [pDNase, pEnhA1, pEnhA2, pEnhAc, pEnhAF, pEnhW1, pEnhW2, pHet, pPromBiv, pPromD1, pPromD2, pPromP, pPromU, pQuies, pReprPC, pTssA, pTx, pTx3prime, pTx5prime, pTxEnh3prime, pTxEnh5prime, pTxEnhW, pTxReg, pTxWk, pZNFRpts];

// ---------- styling / layout ----------
const FONT = '"Liberation Sans", Arial, Helvetica, sans-serif';
const Y_MIN = -3.71, Y_MAX = 2.18;
const LEG_FS = 17.9;

// ggplot2 default hue palette (hcl, c=100, l=65)
function hcl(h, c, l) {
  const WU = 0.1978398, WV = 0.4683363;
  const hr = h * Math.PI / 180;
  const U = c * Math.cos(hr), V = c * Math.sin(hr);
  const Y = l > 7.999592 ? Math.pow((l + 16) / 116, 3) : l / 903.3;
  const u = U / (13 * l) + WU, v = V / (13 * l) + WV;
  const X = 9 * Y * u / (4 * v);
  const Z = -X / 3 - 5 * Y + 3 * Y / v;
  const g = t => t > 0.00304 ? 1.055 * Math.pow(t, 1 / 2.4) - 0.055 : 12.92 * t;
  const ch = t => { t = Math.min(1, Math.max(0, g(t))); return Math.round(255 * t).toString(16).padStart(2, '0'); };
  return '#' + ch(3.240479 * X - 1.537150 * Y - 0.498535 * Z) +
               ch(-0.969256 * X + 1.875992 * Y + 0.041556 * Z) +
               ch(0.055648 * X - 0.204043 * Y + 1.057311 * Z);
}
const palette = tissues.map((t, i) => hcl(15 + 360 * i / tissues.length, 100, 65));

function pSize(p) { return 3.3 + 21 * Math.sqrt(Math.max(0, p) / 25); }
// deterministic horizontal jitter (width 0.2 category units each side)
function jitter(i, s) {
  const f = ((i + 1) * 0.6180339887 + s * 0.2718) % 1;
  return (f - 0.5) * 0.4;
}

const pts = [], infPts = [];
let bad = [];
stateOR.forEach((vals, s) => {
  if (vals.length !== sampleTissue.length) bad.push(states[s] + ':' + vals.length);
  vals.forEach((v, i) => {
    const x = s + jitter(i, s);
    const col = palette[sampleTissue[i]];
    if (v === null) infPts.push({ value: [x, Y_MIN], itemStyle: { color: col } });
    else pts.push({ value: [x, v, stateP[s][i]], itemStyle: { color: col } });
  });
});
stateP.forEach((arr, s) => { if (arr.length && arr.length !== 127) bad.push('p' + states[s] + ':' + arr.length); });

const stateIdx = states.map((s, i) => i);
const gridL = 64, gridT = 28, gridW = 1793, gridH = 594;

const legendCols = [[0, 6], [6, 12], [12, 18], [18, 24], [24, 30]];
const legendKeyX = [401.7, 530.8, 717, 882, 1046.7];
const KEY = 5.5;

const graphics = [
  { type: 'rect', shape: { x: gridL, y: 5, width: gridW, height: 23 }, style: { fill: '#D9D9D9', stroke: '#333333', lineWidth: 1.2 }, z: 10 },
  { type: 'text', x: gridL + gridW / 2, y: 16.5, style: { text: '1', fontSize: 11, fill: '#1A1A1A', align: 'center', verticalAlign: 'middle', fontFamily: FONT }, z: 11 },
  { type: 'text', x: 24, y: 375, rotation: Math.PI / 2, style: { text: 'Odds ratio (log scale)', fontSize: 21, fill: '#000', align: 'center', verticalAlign: 'middle', fontFamily: FONT } },
  { type: 'text', x: 960.5, y: 747, style: { text: 'State', fontSize: 21, fill: '#000', align: 'center', verticalAlign: 'middle', fontFamily: FONT } },
  { type: 'text', x: 320.7, y: 847.3, style: { text: 'tissue', fontSize: 21, fontWeight: 'bold', fill: '#000', align: 'left', verticalAlign: 'middle', fontFamily: FONT } },
  { type: 'text', x: 1312, y: 807.5, style: { text: 'pValueLog', fontSize: 21, fontWeight: 'bold', fill: '#000', align: 'left', verticalAlign: 'middle', fontFamily: FONT } }
];
const sizeKeyX = [1438.3, 1438.3, 1491.7, 1491.7, 1558.3, 1558.3];
const sizeKeyY = [793.3, 820, 793.3, 820, 793.3, 820];
const sizeTextX = [1460, 1460, 1505.7, 1505.7, 1581.7, 1581.7];
sizeBreaks.forEach((b, k) => {
  graphics.push({ type: 'circle', shape: { cx: sizeKeyX[k], cy: sizeKeyY[k], r: pSize(b) / 2 }, style: { fill: '#000' } });
  graphics.push({ type: 'text', x: sizeTextX[k], y: sizeKeyY[k], style: { text: String(b), fontSize: LEG_FS, fill: '#000', align: 'left', verticalAlign: 'middle', fontFamily: FONT } });
});
if (bad.length) graphics.push({ type: 'text', x: 10, y: 10, style: { text: 'LEN ' + bad.join(' '), fontSize: 14, fill: 'red' }, z: 100 });

const chart = echarts.init(document.getElementById('chart'), null, { renderer: 'canvas' });
chart.setOption({
  animation: false,
  backgroundColor: '#ffffff',
  textStyle: { fontFamily: FONT },
  grid: { left: gridL, top: gridT, width: gridW, height: gridH, show: true, borderColor: '#333333', borderWidth: 1.2, backgroundColor: 'transparent', containLabel: false, outerBoundsMode: 'none' },
  xAxis: [{
    type: 'value', min: -0.6, max: 24.6,
    axisLine: { show: false },
    axisTick: { show: true, customValues: stateIdx, length: 4.5, lineStyle: { color: '#333333', width: 1.1 } },
    axisLabel: { show: true, customValues: stateIdx, rotate: 90, margin: 7, fontSize: 17, color: '#4D4D4D', fontFamily: FONT, formatter: v => states[Math.round(v)] },
    splitLine: { show: true, lineStyle: { color: '#EBEBEB', width: 1.3 } }
  }],
  yAxis: [{
    type: 'value', min: Y_MIN, max: Y_MAX,
    axisLine: { show: false },
    axisTick: { show: true, customValues: yTicks, length: 4.5, lineStyle: { color: '#333333', width: 1.1 } },
    axisLabel: { show: true, customValues: yTicks, margin: 10, fontSize: 17, color: '#4D4D4D', fontFamily: FONT, formatter: v => (v < 0 ? '\u2212' + Math.abs(v) : String(v)) },
    splitLine: { show: true, lineStyle: { color: '#EBEBEB', width: 1.3 } }
  }, {
    type: 'value', min: Y_MIN, max: Y_MAX, position: 'left',
    axisLine: { show: false },
    axisTick: { show: false, customValues: yMinorTicks },
    axisLabel: { show: false, customValues: yMinorTicks },
    splitLine: { show: true, lineStyle: { color: '#EBEBEB', width: 0.8 } }
  }],
  // the legend box starts at the icon's left edge, so offset by half the icon size
  legend: legendCols.map((r, c) => ({
    orient: 'vertical', left: legendKeyX[c] - KEY / 2, top: 781.7, padding: 0,
    itemWidth: 34, itemHeight: KEY, itemGap: 4.3, icon: 'circle', selectedMode: false,
    textStyle: { fontSize: LEG_FS, color: '#000', lineHeight: 18, fontFamily: FONT },
    data: tissues.slice(r[0], r[1])
  })),
  graphic: graphics,
  series: [
    {
      type: 'scatter', name: '__inf', data: infPts, silent: true, clip: false,
      symbol: 'path://M0,10 A10,10 0 0 1 20,10 Z', symbolSize: [5, 2.5], symbolOffset: [0, -1.25],
      itemStyle: { opacity: 1 }, z: 3
    },
    {
      type: 'scatter', name: '__pts', data: pts, silent: true, progressive: 0,
      symbol: 'circle', symbolSize: v => pSize(v[2]),
      itemStyle: { opacity: 1 }, z: 2,
      markLine: { silent: true, animation: false, symbol: ['none', 'none'], label: { show: false },
        lineStyle: { color: '#000000', type: [1.3, 2.2], width: 1.3 }, emphasis: { disabled: true },
        data: [{ yAxis: 0 }] }
    },
    ...tissues.map((t, i) => ({ type: 'scatter', name: t, data: [], itemStyle: { color: palette[i] } }))
  ]
});
</script>
</body>
</html>
